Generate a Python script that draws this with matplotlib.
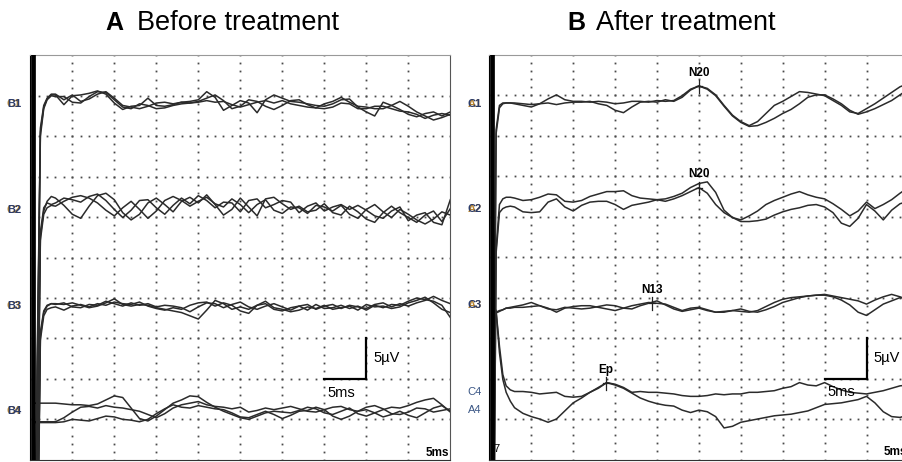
import numpy as np
import matplotlib
matplotlib.use('Agg')
import matplotlib.pyplot as plt

plt.rcParams['font.family'] = ['Liberation Sans', 'DejaVu Sans']

# sample times (ms); onset samples first, then one per ms
t_ms = [0.4, 0.8, 1.2, 1.6, 2.0, 2.5] + list(range(3, 51))

# ---------------- A: before treatment (3 sweeps per channel, uV) ----------------
a_ch1 = [
    [-80, -35, -3.5, -0.4, 0.6, 1.1,
     1.1, -0.1, 1.0, 1.1, 1.3, 1.6, 1.2, 0.1,
     -0.7, -0.3, -0.2, 0.7, -0.2, -0.3, -0.1, 0.2,
     0.3, 0.5, 1.5, 0.8, -0.8, -0.2, 0.4, 0.1,
     -1.1, 0.5, 1.1, 0.7, 0.3, 0.2, 0.0, -0.2,
     -0.3, 0.0, 0.5, 0.6, -0.4, -1.0, -1.5, 0.2,
     -0.2, -0.7, -1.3, -1.6, -1.2, -1.0, -1.5, -1.0],
    [-80, -37, -4.0, -0.6, 0.5, 1.0,
     0.9, 0.9, 0.2, 0.1, 0.9, 1.5, 1.4, 0.5,
     -0.4, -0.6, 0.0, -0.2, -0.6, -0.5, -0.2, 0.0,
     0.1, 0.3, 0.7, 1.1, 0.4, -0.6, -0.3, 0.5,
     0.3, -0.3, -0.7, -0.2, 0.4, 0.5, -0.1, -0.5,
     -0.6, -0.4, 0.1, 0.0, -0.6, -0.6, -0.3, -0.3,
     -0.6, -0.9, -1.0, -1.3, -1.8, -1.4, -1.2, -1.4],
    [-80, -33, -3.0, -0.2, 0.7, 1.2,
     1.2, 0.5, 1.1, 0.3, 0.6, 1.2, 1.5, 0.7,
     -0.2, -0.4, -0.6, -0.3, 0.1, 0.2, 0.0, 0.2,
     0.1, 0.2, 0.4, 0.2, 0.3, -0.1, -0.4, -0.1,
     0.2, 0.4, 0.1, 0.4, 0.0, -0.2, -0.4, -0.5,
     0.0, 0.3, 0.8, 0.2, -0.3, -0.4, -0.6, -0.6,
     -0.2, 0.3, -0.3, -1.0, -1.5, -2.0, -1.7, -1.3],
]
a_ch2 = [
    [-80, -35, -3.5, -0.4, 0.8, 1.4,
     1.2, 0.3, -0.8, -1.3, 0.2, 1.5, 1.8, 1.0,
     -0.6, -1.5, -0.8, 0.6, 1.2, 0.4, -0.5, 0.8,
     1.3, 0.6, 1.6, 0.4, -0.9, -0.2, 1.2, 0.1,
     -1.0, 1.1, 1.3, 0.5, -0.2, 0.2, -0.5, -0.3,
     0.5, -0.6, -0.9, 0.2, -0.5, -1.4, -1.8, -0.6,
     0.2, -0.6, -1.2, -1.8, -0.9, -0.4, -1.7, -0.1],
    [-80, -37, -4.0, -0.8, 0.0, 0.3,
     0.2, 0.8, 1.3, 1.5, 1.2, 0.6, -0.3, -1.0,
     0.0, 0.8, -0.2, -1.3, -0.4, 0.9, 1.4, 0.9,
     0.2, 0.8, 1.3, 0.5, 0.1, 1.1, 0.4, -0.6,
     0.4, 1.0, -0.3, -0.7, 0.1, 0.0, -0.7, 0.3,
     0.1, -0.4, 0.3, -0.8, -1.3, -0.2, 0.4, -0.5,
     -1.2, -0.2, -0.8, -1.5, -2.0, -1.4, -0.5, -0.9],
    [-80, -33, -3.0, 0.0, 0.6, 0.4,
     0.6, 1.2, 1.0, 0.7, 1.4, 1.7, 0.9, -0.2,
     -1.2, -0.3, 0.9, 1.0, 0.0, -0.8, 0.3, 1.2,
     0.5, 1.5, 0.9, 0.0, 0.7, 0.6, -0.5, 0.9,
     1.1, 0.0, 0.4, 0.9, 0.7, -0.6, 0.2, 0.6,
     -0.4, 0.1, 0.4, -0.2, 0.3, -0.3, -1.0, -1.3,
     -0.4, 0.1, -1.6, -0.9, -0.6, -1.8, -2.1, 1.0],
]
a_ch3 = [
    [-80, -35, -3.5, -0.6, 0.2, 0.5,
     0.5, 0.4, 0.6, 0.3, 0.0, 0.2, 0.6, 1.1,
     0.4, 0.2, 0.4, 0.3, 0.0, -0.2, -0.4, -0.6,
     -1.0, -1.4, -0.3, 0.9, 0.5, -0.2, 0.1, -0.2,
     0.3, 0.8, 0.0, -0.2, -0.5, -0.3, 0.1, -0.1,
     0.3, -0.2, 0.0, 0.2, -0.3, 0.4, 0.1, 0.2,
     -0.1, 0.1, 0.6, 0.9, 1.3, 0.6, -0.2, -0.6],
    [-80, -37, -4.0, -1.0, -0.2, 0.0,
     0.1, -0.3, 0.2, 0.4, 0.1, 0.5, 0.3, 0.7,
     0.5, 0.4, 0.7, 0.2, -0.1, -0.3, 0.0, -0.2,
     0.3, 0.6, 0.7, 0.2, 0.6, 0.3, -0.4, -0.7,
     0.3, 0.5, -0.2, -0.4, 0.0, 0.2, -0.3, 0.4,
     -0.1, 0.0, 0.3, -0.1, 0.2, -0.3, 0.3, 0.0,
     0.4, 0.3, 0.8, 1.2, 1.0, 0.8, 0.3, -1.2],
    [-80, -33, -3.0, -0.4, 0.3, 0.5,
     0.4, 0.6, 0.1, 0.0, 0.4, 0.3, 0.8, 0.5,
     0.2, 0.6, 0.3, 0.5, 0.1, 0.3, 0.2, 0.0,
     -0.5, 0.1, 0.6, 0.5, 0.0, 0.4, 0.7, 0.1,
     -0.2, 0.2, 0.5, 0.1, -0.3, 0.2, 0.4, -0.2,
     0.2, 0.4, -0.1, 0.3, 0.1, -0.1, 0.4, 0.6,
     0.1, 0.5, 0.2, 0.6, 0.9, 1.4, 0.9, 0.5],
]
a_ch4 = [
    [0.8, 0.8, 0.8, 0.8, 0.8, 0.8,
     0.8, 0.7, 0.6, 0.6, 0.5, 0.7, 1.2, 1.7,
     1.5, 0.2, -1.1, -1.4, -0.8, 0.0, 0.8, 1.2,
     1.7, 1.6, 0.9, 0.3, -0.2, -0.6, -1.0, -1.2,
     -0.8, -0.4, -0.2, -0.3, -0.4, -0.1, 0.3, 0.1,
     -0.4, -0.6, -0.2, 0.2, -0.5, -0.8, -0.4, 0.0,
     0.3, 0.2, 0.5, 0.9, 1.2, 1.4, 0.6, -0.3],
    [-1.5, -1.5, -1.5, -1.5, -1.5, -1.5,
     -1.5, -1.0, -0.3, 0.3, 0.4, 0.2, 0.5, 0.3,
     0.2, 0.0, -0.2, -0.6, -1.0, -0.5, 0.2, 0.6,
     0.8, 1.0, 0.6, 0.4, 0.3, 0.1, 0.3, -0.3,
     -0.1, 0.2, 0.0, 0.2, 0.4, 0.1, -0.2, -0.3,
     0.0, 0.3, 0.4, 0.0, -0.2, 0.3, 0.5, 0.1,
     -0.5, -0.6, -0.3, 0.2, 0.1, -0.3, -0.1, 0.1],
    [-1.6, -1.6, -1.6, -1.6, -1.6, -1.6,
     -1.6, -1.5, -1.2, -1.3, -1.4, -1.1, -0.8, -0.9,
     -1.2, -1.3, -1.5, -1.2, -0.5, 0.1, 0.6, 0.3,
     0.2, 0.5, 0.3, 0.1, 0.0, -0.4, -0.9, -1.0,
     -0.6, -0.2, -0.6, -1.1, -0.7, -0.2, -0.1, 0.3,
     0.0, -0.8, -1.2, -0.8, -0.2, 0.0, -0.4, -0.9,
     -0.6, -0.2, -0.7, -1.0, -0.4, 0.2, 0.5, -0.2],
]

# ---------------- B: after treatment (2 sweeps per channel, uV) ----------------
b_ch1 = [
    [-60, -3.0, 0.0, 0.3, 0.3, 0.3,
     0.2, 0.0, -0.2, 0.2, 0.8, 1.3, 0.7, 0.5,
     0.5, 0.4, 0.5, 0.4, 0.2, 0.3, 0.5, 0.5,
     0.4, 0.6, 0.5, 0.6, 1.2, 2.0, 2.4, 2.1,
     1.3, 0.0, -1.2, -2.0, -2.5, -2.0, -1.0, 0.0,
     0.5, 1.1, 1.7, 1.6, 1.4, 1.2, 0.6, 0.0,
     -0.8, -1.0, -0.4, 0.2, 0.9, 1.6, 2.3, 2.7],
    [-60, -3.5, -0.3, 0.2, 0.3, 0.3,
     0.3, 0.2, 0.1, 0.2, 0.3, 0.1, 0.3, 0.4,
     0.4, 0.5, 0.2, 0.0, -0.6, -0.9, -0.2, 0.4,
     0.5, 0.4, 0.7, 0.5, 1.0, 1.9, 2.4, 2.0,
     1.2, -0.1, -1.3, -2.1, -2.6, -2.5, -2.1, -1.6,
     -1.0, -0.5, 0.2, 1.0, 1.3, 1.3, 0.8, 0.2,
     -0.6, -1.1, -0.8, -0.4, 0.1, 0.6, 1.3, 2.0],
]
b_ch2 = [
    [-60, -5.0, 0.5, 1.2, 1.4, 1.4,
     1.3, 1.0, 1.1, 1.4, 1.8, 1.7, 0.9, 0.8,
     1.0, 1.5, 1.8, 2.1, 2.1, 2.2, 1.6, 1.3,
     1.2, 1.1, 0.9, 1.2, 1.6, 2.1, 2.6, 1.9,
     0.5, -0.5, -1.1, -1.4, -0.9, -0.3, 0.5, 1.0,
     1.4, 1.8, 2.1, 1.7, 1.4, 1.2, 0.6, -0.1,
     -0.9, -0.3, 0.8, 0.0, 0.5, 1.1, 1.9, 2.6],
    [-60, -5.5, -0.5, 0.0, 0.2, 0.3,
     0.2, -0.4, -0.5, -0.4, 0.8, 1.2, 0.2, -0.3,
     0.4, 0.8, 0.9, 0.9, 0.5, -0.1, 0.4, 0.6,
     0.8, 1.1, 1.2, 1.5, 1.9, 2.6, 3.1, 3.3,
     2.0, -0.2, -1.1, -1.6, -1.6, -1.5, -1.3, -0.8,
     -0.4, -0.1, 0.1, 0.4, 0.5, 0.2, -0.5, -1.8,
     -2.2, -1.2, 0.5, -0.3, -1.4, -0.2, 0.6, 0.9],
]
b_ch3 = [
    [-0.8, -0.5, -0.3, -0.2, 0.0, 0.1,
     0.2, 0.4, 0.7, 0.3, 0.0, -0.5, 0.0, 0.2,
     0.3, 0.3, 0.1, -0.1, -0.3, 0.0, 0.3, 0.5,
     0.7, 0.6, 0.5, 0.1, -0.3, 0.0, 0.1, -0.2,
     -0.5, -0.5, -0.3, -0.1, -0.4, -0.5, -0.2, 0.2,
     0.7, 1.0, 1.3, 1.5, 1.6, 1.6, 1.4, 1.0,
     0.4, -0.5, -0.9, -0.2, 0.5, 0.9, 1.3, 1.2],
    [-0.9, -0.6, -0.4, -0.2, 0.0, 0.0,
     0.1, 0.1, 0.2, 0.3, -0.1, -0.2, 0.1, 0.0,
     -0.1, 0.0, 0.2, 0.4, 0.3, 0.0, -0.1, 0.3,
     0.6, 0.9, 0.4, -0.1, -0.4, -0.2, 0.0, -0.3,
     -0.5, -0.4, -0.3, -0.4, -0.5, -0.3, 0.2, 0.7,
     1.1, 1.3, 1.4, 1.5, 1.6, 1.7, 1.5, 1.3,
     1.1, 0.9, 0.5, 1.0, 1.4, 1.7, 1.4, 1.0],
]
b_ch4 = [
    [11.0, 10.0, 5.7, 2.2, 0.8, 0.3,
     0.1, 0.1, 0.0, -0.2, -0.1, 0.0, -0.5, -0.6,
     -0.5, 0.0, 0.6, 1.2, 1.0, 0.6, 0.0, 0.1,
     0.0, 0.0, -0.1, -0.2, -0.4, -0.5, -0.5, -0.4,
     -0.2, -0.3, -0.2, -0.2, 0.0, 0.0, 0.1, 0.2,
     0.5, 0.7, 1.2, 0.9, 0.8, 1.2, 0.7, 0.3,
     0.0, -0.1, -0.2, 0.0, 0.2, 0.5, 0.8, 0.9],
    [11.0, 10.0, 4.9, 1.6, 0.0, -1.1,
     -1.9, -2.6, -3.0, -3.3, -3.7, -3.3, -2.3, -1.3,
     -0.7, 0.0, 0.5, 1.2, 0.9, 0.5, -0.1, -0.7,
     -1.1, -1.4, -1.6, -1.7, -2.2, -2.5, -2.2, -2.4,
     -3.0, -4.4, -4.2, -3.7, -3.5, -3.3, -3.1, -2.9,
     -2.8, -2.7, -2.5, -2.3, -1.9, -1.5, -1.4, -1.3,
     -1.1, -0.9, -0.5, -1.3, -2.4, -3.0, -3.1, -2.8],
]

# display baseline of each channel (uV from panel bottom)
a_offsets = [44.0, 31.15, 18.8, 6.2]
b_offsets = [43.75, 31.0, 18.7, 8.3]

# peak labels: (channel index, latency ms, name)
b_peaks = [(0, 25.0, 'N20'), (1, 25.0, 'N20'), (2, 19.4, 'N13'), (3, 13.9, 'Ep')]

W, H = 903, 462
fig = plt.figure(figsize=(W / 100, H / 100), dpi=100)


def px_rect(x0, y0, x1, y1):
    return [x0 / W, 1 - y1 / H, (x1 - x0) / W, (y1 - y0) / H]


def setup_panel(ax):
    ax.set_xlim(0, 50)
    ax.set_ylim(0, 50)
    ax.set_xticks([])
    ax.set_yticks([])
    dots_x = np.arange(0, 50.01, 1.0)
    for g in range(5, 50, 5):
        ax.plot(dots_x, np.full(dots_x.size, g), ls='none', marker='s',
                ms=1.3, mew=0, color='#4a4a4a', zorder=1)
        ax.plot(np.full(dots_x.size, g), dots_x, ls='none', marker='s',
                ms=1.3, mew=0, color='#4a4a4a', zorder=1)
    for side in ['top', 'right', 'bottom', 'left']:
        ax.spines[side].set_linewidth(0.8)
    ax.spines['top'].set_color('#999999')
    ax.spines['right'].set_color('#555555')
    ax.spines['bottom'].set_color('#333333')
    ax.axvline(0.27, color='black', lw=3.4, zorder=4)


def draw_traces(ax, channels, offsets):
    for sweeps, off in zip(channels, offsets):
        for sw in sweeps:
            ax.plot(t_ms, np.array(sw) + off, color='#2b2b2b', lw=1.1,
                    zorder=3, solid_joinstyle='round')


def scale_bar(ax, x_end):
    ax.plot([x_end - 5, x_end, x_end], [10, 10, 15], color='black', lw=1.6,
            zorder=5, solid_joinstyle='miter')
    ax.text(x_end + 0.8, 12.6, '5µV', fontsize=10.5, va='center', ha='left', zorder=6)
    ax.text(x_end - 4.6, 8.3, '5ms', fontsize=10.5, va='center', ha='left', zorder=6)


# panel A
ax_a = fig.add_axes(px_rect(30.3, 55.3, 450.3, 459.8))
setup_panel(ax_a)
draw_traces(ax_a, [a_ch1, a_ch2, a_ch3, a_ch4], a_offsets)
scale_bar(ax_a, 40)
ax_a.text(49.9, 0.9, '5ms', fontsize=8.5, fontweight='bold', ha='right', va='center')

# panel B
ax_b = fig.add_axes(px_rect(489.4, 54.8, 908.4, 459.5))
setup_panel(ax_b)
b_channels = [b_ch1, b_ch2, b_ch3, b_ch4]
draw_traces(ax_b, b_channels, b_offsets)
scale_bar(ax_b, 45)
ax_b.text(49.9, 0.9, '5ms', fontsize=8.5, fontweight='bold', ha='right', va='center')
ax_b.text(0.5, 1.3, '7', fontsize=8, ha='left', va='center')

for ch, lat, name in b_peaks:
    y = np.interp(lat, t_ms, b_channels[ch][0]) + b_offsets[ch]
    ax_b.plot([lat, lat], [y - 0.9, y + 0.7], color='#222222', lw=0.9, zorder=6)
    ax_b.plot([lat - 0.35, lat + 0.35], [y, y], color='#222222', lw=0.9, zorder=6)
    ax_b.text(lat, y + 0.9, name, fontsize=8.5, fontweight='bold', ha='center',
              va='bottom', zorder=6)

# channel labels (overprinted montage names)
lab_navy, lab_orange = '#2c3d6b', '#b8842f'
for y, names in [(104, ['C1', 'B1']), (210, ['C2', 'B2']), (306, ['C3', 'B3']),
                 (411, ['C4', 'B4'])]:
    fig.text(14 / W, 1 - y / H, names[0], color=lab_orange, fontsize=8,
             ha='center', va='center', fontweight='bold')
    fig.text(14 / W, 1 - y / H, names[1], color=lab_navy, fontsize=8,
             ha='center', va='center', fontweight='bold')
for y, names in [(104, ['A1', 'C1']), (209, ['A2', 'C2']), (305, ['A3', 'C3'])]:
    fig.text(475 / W, 1 - y / H, names[0], color=lab_orange, fontsize=8,
             ha='center', va='center', fontweight='bold')
    fig.text(475 / W, 1 - y / H, names[1], color=lab_navy, fontsize=8,
             ha='center', va='center', fontweight='bold')
fig.text(475 / W, 1 - 392 / H, 'C4', color='#3a5685', fontsize=8,
         ha='center', va='center')
fig.text(475 / W, 1 - 410 / H, 'A4', color='#3a5685', fontsize=8,
         ha='center', va='center')

# titles
fig.text(105 / W, 1 - 23 / H, 'A', fontsize=18, fontweight='bold', ha='left', va='center')
fig.text(137 / W, 1 - 23 / H, 'Before treatment', fontsize=19.5, ha='left', va='center')
fig.text(567 / W, 1 - 23 / H, 'B', fontsize=18, fontweight='bold', ha='left', va='center')
fig.text(596 / W, 1 - 23 / H, 'After treatment', fontsize=19.5, ha='left', va='center')

fig.savefig('out.png', dpi=100)
